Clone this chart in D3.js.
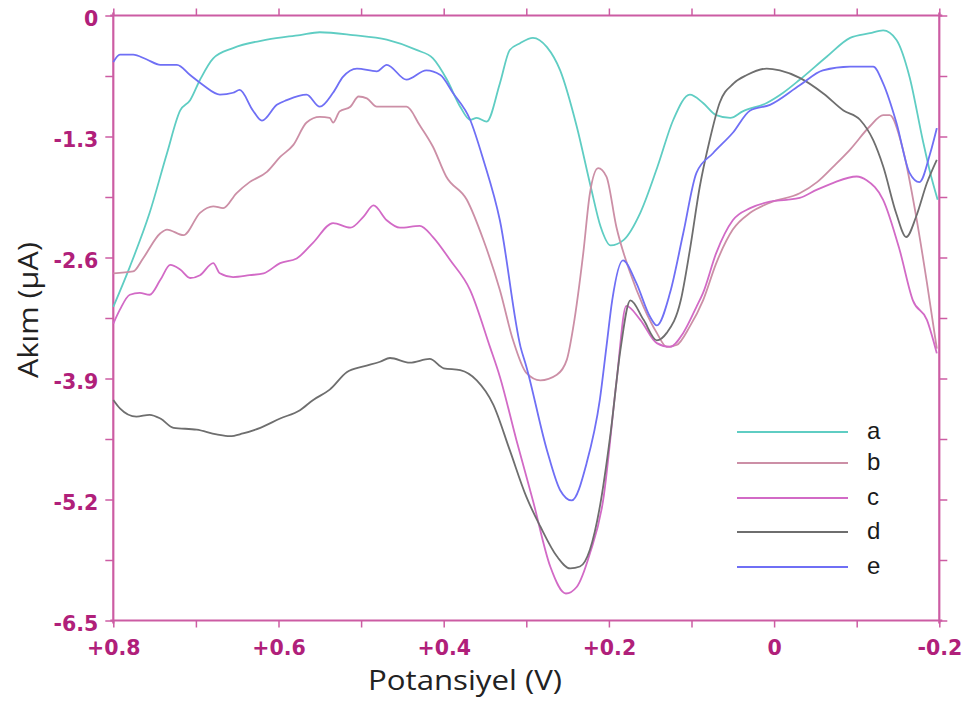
<!DOCTYPE html>
<html>
<head>
<meta charset="utf-8">
<script src="https://cdn.jsdelivr.net/npm/d3@7"></script>
<style>
  html, body { margin: 0; padding: 0; background: #fff; }
  svg { display: block; }
  .tick text { font-family: "DejaVu Sans", Verdana, sans-serif; font-weight: bold; font-size: 20.5px; fill: #b0207a; }
  .legend text { font-family: "Liberation Sans", Arial, sans-serif; font-size: 24px; fill: #1a1a1a; }
  .axis-title { font-family: "Open Sans", sans-serif; font-size: 28px; fill: #222; }
</style>
</head>
<body>
<svg id="chart" width="970" height="704"></svg>
<script>
// values: potential (V) and current (µA) per curve
const potA = [0.800,0.780,0.756,0.735,0.719,0.707,0.695,0.679,0.655,0.614,0.574,0.550,0.510,0.469,0.433,0.413,0.396,0.380,0.368,0.360,0.348,0.332,0.320,0.308,0.292,0.275,0.259,0.239,0.222,0.210,0.198,0.182,0.162,0.141,0.122,0.102,0.086,0.070,0.053,0.038,0.009,-0.011,-0.031,-0.064,-0.092,-0.116,-0.132,-0.148,-0.164,-0.180,-0.189,-0.198];
const curA = [-3.13,-2.70,-2.12,-1.48,-1.02,-0.91,-0.69,-0.46,-0.35,-0.26,-0.21,-0.18,-0.21,-0.26,-0.37,-0.46,-0.69,-0.98,-1.12,-1.10,-1.14,-0.73,-0.37,-0.30,-0.24,-0.34,-0.59,-1.19,-1.84,-2.27,-2.47,-2.41,-2.12,-1.62,-1.12,-0.85,-0.94,-1.07,-1.10,-1.03,-0.94,-0.83,-0.69,-0.44,-0.24,-0.19,-0.16,-0.26,-0.66,-1.34,-1.69,-1.98];

const potB = [0.800,0.776,0.764,0.743,0.735,0.715,0.695,0.679,0.667,0.651,0.635,0.614,0.598,0.582,0.566,0.550,0.538,0.534,0.526,0.513,0.503,0.493,0.481,0.465,0.445,0.429,0.413,0.397,0.372,0.352,0.332,0.316,0.300,0.283,0.263,0.251,0.243,0.231,0.223,0.213,0.203,0.191,0.174,0.158,0.142,0.130,0.118,0.102,0.086,0.070,0.050,0.029,0.005,-0.031,-0.052,-0.072,-0.092,-0.116,-0.132,-0.140,-0.156,-0.172,-0.185,-0.197];
const curB = [-2.77,-2.75,-2.61,-2.34,-2.30,-2.36,-2.12,-2.05,-2.07,-1.91,-1.79,-1.68,-1.52,-1.39,-1.15,-1.09,-1.10,-1.15,-1.03,-0.98,-0.87,-0.89,-0.98,-0.98,-0.98,-1.18,-1.41,-1.73,-1.98,-2.41,-2.95,-3.49,-3.84,-3.92,-3.86,-3.70,-3.34,-2.55,-1.91,-1.64,-1.73,-2.27,-2.77,-3.13,-3.41,-3.56,-3.54,-3.34,-3.06,-2.66,-2.30,-2.12,-2.01,-1.91,-1.79,-1.62,-1.44,-1.19,-1.07,-1.07,-1.44,-2.16,-2.87,-3.58];

const potC = [0.800,0.792,0.780,0.768,0.756,0.743,0.731,0.719,0.707,0.695,0.679,0.671,0.655,0.635,0.618,0.598,0.578,0.558,0.534,0.513,0.497,0.485,0.469,0.453,0.429,0.413,0.392,0.368,0.344,0.332,0.312,0.292,0.271,0.252,0.239,0.223,0.207,0.191,0.179,0.162,0.142,0.126,0.110,0.094,0.086,0.070,0.050,0.029,0.005,-0.015,-0.031,-0.052,-0.071,-0.100,-0.112,-0.132,-0.152,-0.168,-0.185,-0.197];
const curC = [-3.31,-3.16,-3.00,-2.98,-3.00,-2.84,-2.68,-2.73,-2.82,-2.79,-2.66,-2.77,-2.81,-2.79,-2.77,-2.66,-2.61,-2.44,-2.23,-2.28,-2.16,-2.04,-2.20,-2.28,-2.26,-2.38,-2.63,-2.95,-3.56,-3.88,-4.56,-5.21,-5.92,-6.21,-6.14,-5.78,-5.21,-3.95,-3.12,-3.27,-3.52,-3.56,-3.41,-3.13,-2.98,-2.55,-2.20,-2.07,-2.00,-1.98,-1.96,-1.87,-1.80,-1.73,-1.77,-1.98,-2.52,-3.06,-3.27,-3.63];

const potD = [0.800,0.792,0.772,0.756,0.743,0.727,0.699,0.675,0.659,0.643,0.622,0.598,0.574,0.558,0.538,0.517,0.497,0.477,0.465,0.441,0.417,0.400,0.380,0.360,0.340,0.320,0.300,0.283,0.263,0.247,0.235,0.223,0.211,0.198,0.186,0.174,0.158,0.142,0.130,0.113,0.102,0.090,0.078,0.066,0.049,0.033,0.009,-0.007,-0.031,-0.060,-0.084,-0.104,-0.120,-0.132,-0.148,-0.160,-0.172,-0.185,-0.197];
const curD = [-4.13,-4.22,-4.31,-4.29,-4.33,-4.43,-4.45,-4.50,-4.52,-4.49,-4.43,-4.33,-4.24,-4.13,-4.02,-3.83,-3.77,-3.72,-3.68,-3.73,-3.69,-3.79,-3.81,-3.92,-4.18,-4.67,-5.17,-5.49,-5.81,-5.94,-5.92,-5.74,-5.28,-4.49,-3.59,-3.06,-3.27,-3.49,-3.41,-3.06,-2.52,-1.84,-1.34,-0.94,-0.73,-0.64,-0.57,-0.59,-0.67,-0.84,-1.02,-1.12,-1.34,-1.62,-2.13,-2.38,-2.16,-1.80,-1.55];

const potE = [0.800,0.792,0.776,0.760,0.743,0.723,0.707,0.691,0.671,0.655,0.647,0.631,0.620,0.602,0.590,0.566,0.550,0.534,0.522,0.505,0.481,0.469,0.445,0.421,0.404,0.389,0.368,0.352,0.332,0.307,0.300,0.275,0.259,0.245,0.227,0.211,0.203,0.196,0.183,0.167,0.150,0.142,0.126,0.110,0.094,0.074,0.050,0.029,0.005,-0.031,-0.059,-0.092,-0.120,-0.132,-0.148,-0.164,-0.176,-0.189,-0.197];
const curE = [-0.50,-0.42,-0.42,-0.47,-0.53,-0.53,-0.64,-0.75,-0.85,-0.83,-0.80,-1.02,-1.13,-0.96,-0.91,-0.85,-0.98,-0.83,-0.66,-0.57,-0.60,-0.53,-0.69,-0.59,-0.64,-0.83,-1.12,-1.55,-2.20,-3.56,-3.77,-4.67,-5.10,-5.21,-4.81,-4.13,-3.56,-3.06,-2.63,-2.87,-3.24,-3.33,-2.98,-2.34,-1.69,-1.48,-1.26,-1.02,-0.96,-0.75,-0.59,-0.55,-0.55,-0.73,-1.15,-1.69,-1.79,-1.48,-1.21];

const seriesNames = ['a', 'b', 'c', 'd', 'e'];
const seriesColors = ['#5fcdc3', '#cc8fa6', '#d26ac6', '#6e6e6e', '#6f6ff5'];
const xTicks = [0.8, 0.7, 0.6, 0.5, 0.4, 0.3, 0.2, 0.1, 0, -0.1, -0.2];
const xLabels = ['+0.8', '', '+0.6', '', '+0.4', '', '+0.2', '', '0', '', '-0.2'];
const yTicks = [0, -0.65, -1.3, -1.95, -2.6, -3.25, -3.9, -4.55, -5.2, -5.85, -6.5];
const yLabels = ['0', '', '-1.3', '', '-2.6', '', '-3.9', '', '-5.2', '', '-6.5'];

const pots = [potA, potB, potC, potD, potE];
const curs = [curA, curB, curC, curD, curE];

const svg = d3.select('#chart');
const x = d3.scaleLinear().domain([0.8, -0.2]).range([113.3, 939.3]);
const y = d3.scaleLinear().domain([0, -6.5]).range([15.5, 620.5]);

const AXIS = '#cc5ca3';

function styleAxis(g) {
  g.select('.domain').remove();
  g.selectAll('.tick line').attr('stroke', AXIS).attr('stroke-width', 1.5);
}

// frame lines
const frame = svg.append('g').attr('stroke', AXIS).attr('stroke-width', 2.2).attr('fill', 'none');
frame.append('line').attr('x1', x(0.8)).attr('x2', x(0.8)).attr('y1', y(0) - 3).attr('y2', y(-6.5) + 3);
frame.append('line').attr('x1', x(-0.2)).attr('x2', x(-0.2)).attr('y1', y(0) - 3).attr('y2', y(-6.5) + 3);
frame.append('line').attr('x1', x(0.8) - 3).attr('x2', x(-0.2) + 3).attr('y1', y(0)).attr('y2', y(0));
frame.append('line').attr('x1', x(0.8) - 3).attr('x2', x(-0.2) + 3).attr('y1', y(-6.5)).attr('y2', y(-6.5));

svg.append('g')
  .attr('transform', `translate(${x(0.8)},0)`)
  .call(d3.axisLeft(y).tickValues(yTicks).tickSize(8).tickPadding(7)
    .tickFormat((d, i) => yLabels[i]))
  .call(styleAxis)
  .call(g => g.selectAll('.tick text').attr('dy', '0.5em'));

svg.append('g')
  .attr('transform', `translate(${x(-0.2)},0)`)
  .call(d3.axisRight(y).tickValues(yTicks).tickSize(8).tickFormat(''))
  .call(styleAxis);

svg.append('g')
  .attr('transform', `translate(0,${y(0)})`)
  .call(d3.axisTop(x).tickValues(xTicks).tickSize(7).tickFormat(''))
  .call(styleAxis);

svg.append('g')
  .attr('transform', `translate(0,${y(-6.5)})`)
  .call(d3.axisBottom(x).tickValues(xTicks).tickSize(7).tickPadding(13)
    .tickFormat((d, i) => xLabels[i]))
  .call(styleAxis);

// curves
const line = d3.line()
  .x(d => x(d[0]))
  .y(d => y(d[1]))
  .curve(d3.curveMonotoneX);

seriesNames.forEach((name, k) => {
  const pts = pots[k].map((v, i) => [v, curs[k][i]]);
  svg.append('path')
    .datum(pts)
    .attr('fill', 'none')
    .attr('stroke', seriesColors[k])
    .attr('stroke-width', 1.8)
    .attr('stroke-linejoin', 'round')
    .attr('d', line);
});

// legend
const legend = svg.append('g').attr('class', 'legend');
const legendY = [432, 463, 498, 532, 567];
seriesNames.forEach((name, k) => {
  legend.append('line')
    .attr('x1', 737).attr('x2', 848)
    .attr('y1', legendY[k]).attr('y2', legendY[k])
    .attr('stroke', seriesColors[k])
    .attr('stroke-width', 2.2);
  legend.append('text')
    .attr('x', 867).attr('y', legendY[k])
    .attr('dy', '0.3em')
    .text(name);
});

// axis titles
svg.append('text')
  .attr('class', 'axis-title')
  .attr('x', 465).attr('y', 690)
  .attr('text-anchor', 'middle')
  .attr('textLength', 194)
  .attr('lengthAdjust', 'spacingAndGlyphs')
  .text('Potansiyel (V)');

svg.append('text')
  .attr('class', 'axis-title')
  .attr('transform', 'translate(38,310) rotate(-90)')
  .attr('text-anchor', 'middle')
  .attr('textLength', 136)
  .attr('lengthAdjust', 'spacingAndGlyphs')
  .text('Akım (µA)');
</script>
</body>
</html>
